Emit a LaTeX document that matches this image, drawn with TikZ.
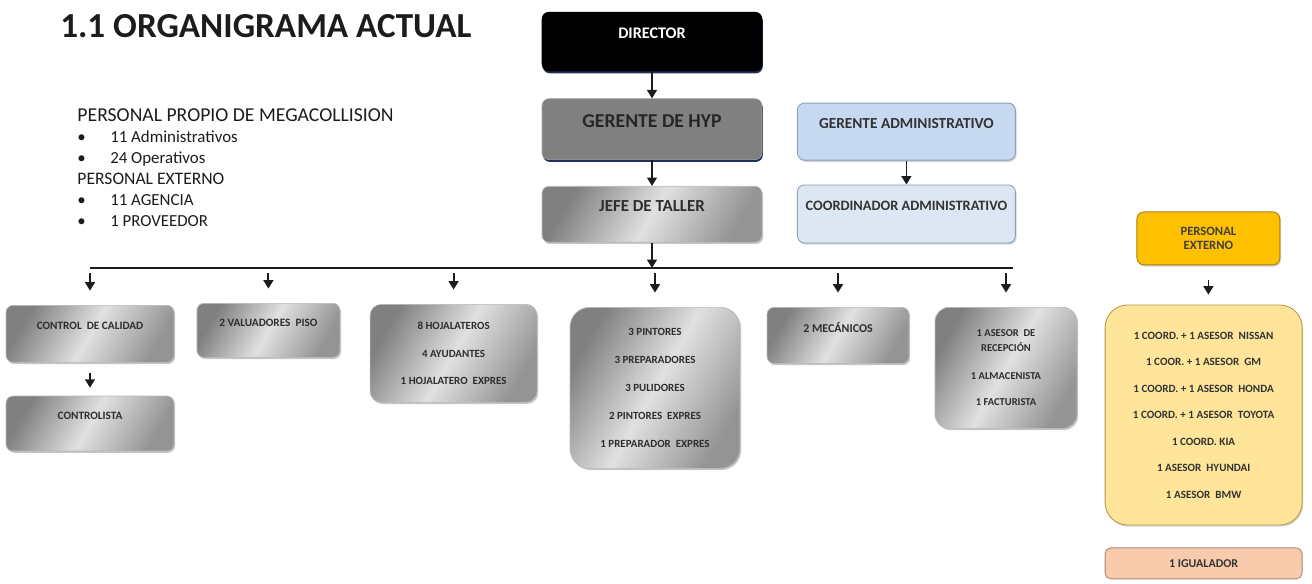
\documentclass[tikz,border=0pt]{standalone}
\usepackage{fontspec}
\setmainfont{Carlito}
\usetikzlibrary{arrows.meta, positioning, shadows}
\definecolor{mydark}{RGB}{28,28,28}
\definecolor{mynavy}{RGB}{35,48,95}
\definecolor{myhyp}{RGB}{128,128,128}
\definecolor{hdrblue}{RGB}{198,217,241}
\definecolor{hdrpale}{RGB}{221,231,243}
\definecolor{myblueline}{RGB}{140,160,185}
\definecolor{myorange}{RGB}{255,192,0}
\definecolor{myorangeline}{RGB}{170,125,20}
\definecolor{myyellow}{RGB}{255,229,153}
\definecolor{myyellowline}{RGB}{185,150,70}
\definecolor{mypeach}{RGB}{248,203,173}
\definecolor{mypeachline}{RGB}{170,135,115}
\tikzset{
  graybox/.style={rectangle, draw=gray!55, rounded corners=5pt, line width=0.5pt,
    left color=black!50, right color=black!42, middle color=black!12, shading angle=60,
    drop shadow={shadow xshift=0.8pt, shadow yshift=-1.2pt, opacity=0.45},
    align=center, font=\bfseries\fontsize{8}{9.5}\selectfont, text=black!82, inner sep=2pt},
  darkbox/.style={rectangle, draw=black, fill=black, rounded corners=5pt,
    drop shadow={shadow xshift=0.6pt, shadow yshift=-1.6pt, fill=mynavy, opacity=1},
    align=center, font=\bfseries\fontsize{11.5}{13}\selectfont, text=white},
  hypbox/.style={rectangle, draw=gray!70, fill=myhyp, rounded corners=5pt,
    drop shadow={shadow xshift=0.6pt, shadow yshift=-1.6pt, fill=mynavy, opacity=1},
    align=center, font=\bfseries\fontsize{14}{16}\selectfont, text=black!85},
  bluebox/.style={rectangle, draw=myblueline, fill=hdrblue, rounded corners=5pt, line width=0.6pt,
    drop shadow={shadow xshift=0.8pt, shadow yshift=-1.2pt, opacity=0.35},
    align=center, font=\bfseries\fontsize{10.9}{12}\selectfont, text=black!80},
  toptext/.style={text depth=0.4cm},
  arrow/.style={-{Triangle[width=7pt,length=6pt]}, line width=1.3pt, color=mydark},
  line/.style={line width=1.5pt, color=mydark}
}
\begin{document}
\begin{tikzpicture}[node distance=0.65cm]
  \useasboundingbox (0,0) rectangle (32.8,-14.575);

  % Title and staff summary
  \node[anchor=west, inner sep=0pt, font=\bfseries\fontsize{25}{30}\selectfont, text=mydark] (title) at (1.5,-0.66) {1.1 ORGANIGRAMA ACTUAL};
  \node[anchor=north west, inner sep=0pt, align=left, font=\fontsize{12}{14.9}\selectfont, text=mydark] (summary) at (1.93,-2.72)
    {{\fontsize{14}{14.9}\selectfont PERSONAL PROPIO DE MEGACOLLISION}\\
     \makebox[0.82cm][l]{\textbullet}11 Administrativos\\
     \makebox[0.82cm][l]{\textbullet}24 Operativos\\
     {\fontsize{12.5}{14.9}\selectfont PERSONAL EXTERNO}\\
     \makebox[0.82cm][l]{\textbullet}11 AGENCIA\\
     \makebox[0.82cm][l]{\textbullet}1 PROVEEDOR};

  % Top chain
  \node[darkbox, toptext, minimum width=5.5cm, minimum height=1.475cm] (director) at (16.3,-1.04) {DIRECTOR};
  \node[hypbox, toptext, minimum width=5.5cm, minimum height=1.525cm, below=0.675cm of director] (hyp) {GERENTE DE HYP};
  \node[graybox, toptext, minimum width=5.5cm, minimum height=1.4cm, below=0.65cm of hyp,
    font=\bfseries\fontsize{12}{13}\selectfont] (jefe) {JEFE DE TALLER};

  % Administrative branch
  \node[bluebox, toptext, minimum width=5.45cm, minimum height=1.425cm] (gadm) at (22.66,-3.29) {GERENTE ADMINISTRATIVO};
  \node[bluebox, toptext, fill=hdrpale, minimum width=5.45cm, minimum height=1.45cm, below=0.6cm of gadm,
    font=\bfseries\fontsize{10.2}{11}\selectfont] (cadm) {COORDINADOR ADMINISTRATIVO};

  \draw[arrow] (director) -- (hyp);
  \draw[arrow] (hyp) -- (jefe);
  \draw[arrow] (gadm) -- (cadm);

  % Distribution bar
  \coordinate (barL) at (2.25,-6.7);
  \coordinate (barR) at (25.33,-6.7);
  \draw[line] (barL) -- (barR);
  \draw[arrow] (jefe.south) -- (jefe.south |- barL);

  % Workshop areas
  \node[graybox, toptext, minimum width=4.2cm, minimum height=1.425cm, anchor=north] (cal) at (2.25,-7.625) {CONTROL\ \ DE CALIDAD};
  \node[graybox, toptext, minimum width=4.2cm, minimum height=1.375cm, below=0.825cm of cal] (ctrl) {CONTROLISTA};
  \node[graybox, toptext, minimum width=3.575cm, minimum height=1.35cm, anchor=north] (val) at (6.71,-7.575) {2 VALUADORES\ \ PISO};
  \node[graybox, rounded corners=8pt, minimum width=4.175cm, minimum height=2.45cm, anchor=north,
    font=\bfseries\fontsize{7.8}{19.5}\selectfont] (hoj) at (11.34,-7.6)
    {8 HOJALATEROS\\4 AYUDANTES\\1 HOJALATERO\ \ EXPRES};
  \node[graybox, rounded corners=14pt, minimum width=4.25cm, minimum height=4.025cm, anchor=north,
    font=\bfseries\fontsize{7.8}{20}\selectfont] (pint) at (16.375,-7.675)
    {3 PINTORES\\3 PREPARADORES\\3 PULIDORES\\2 PINTORES\ \ EXPRES\\1 PREPARADOR\ \ EXPRES};
  \node[graybox, toptext, minimum width=3.55cm, minimum height=1.4cm, anchor=north,
    font=\bfseries\fontsize{8.5}{10}\selectfont] (mec) at (20.95,-7.675) {2 MECÁNICOS};
  \node[graybox, rounded corners=10pt, minimum width=3.55cm, minimum height=3.025cm, anchor=north,
    font=\bfseries\fontsize{7.5}{10.7}\selectfont] (ase) at (25.15,-7.675)
    {1 ASESOR\ \ DE\\RECEPCIÓN\\[9pt]1 ALMACENISTA\\[8pt]1 FACTURISTA};

  \foreach \n in {cal,val,hoj,pint,mec,ase}
    \draw[arrow, shorten <=0.13cm, shorten >=0.36cm] (\n.north |- barL) -- (\n.north);
  \draw[arrow, shorten <=0.25cm, shorten >=0.2cm] (cal) -- (ctrl);

  % External staff
  \node[rectangle, draw=myorangeline, fill=myorange, rounded corners=5pt, line width=0.6pt,
    drop shadow={shadow xshift=0.8pt, shadow yshift=-1.2pt, opacity=0.35},
    minimum width=3.575cm, minimum height=1.325cm, align=center,
    font=\bfseries\fontsize{9}{10}\selectfont, text=black!75] (pext) at (30.21,-5.96) {PERSONAL\\EXTERNO};
  \node[rectangle, draw=myyellowline, fill=myyellow, rounded corners=16pt, line width=0.6pt,
    drop shadow={shadow xshift=0.8pt, shadow yshift=-1.2pt, opacity=0.35},
    minimum width=4.925cm, minimum height=5.5cm, align=center,
    font=\bfseries\fontsize{7.9}{18.85}\selectfont, text=black!80] (ylw) at (30.09,-10.375)
    {1 COORD. + 1 ASESOR\ \ NISSAN\\1 COOR. +\ 1 ASESOR\ \ GM\\1 COORD. + 1 ASESOR\ \ HONDA\\1 COORD. + 1 ASESOR\ \ TOYOTA\\1 COORD.\ KIA\\1 ASESOR\ \ HYUNDAI\\1 ASESOR\ \ BMW};
  \node[rectangle, draw=mypeachline, fill=mypeach, rounded corners=4pt, line width=0.6pt,
    minimum width=4.925cm, minimum height=0.775cm, below=0.55cm of ylw,
    font=\bfseries\fontsize{8.5}{9}\selectfont, text=black!80] (igu) {1 IGUALADOR};
  \draw[arrow, shorten <=0.375cm, shorten >=0.25cm] (pext.south) -- (pext.south |- ylw.north);
\end{tikzpicture}
\end{document}
